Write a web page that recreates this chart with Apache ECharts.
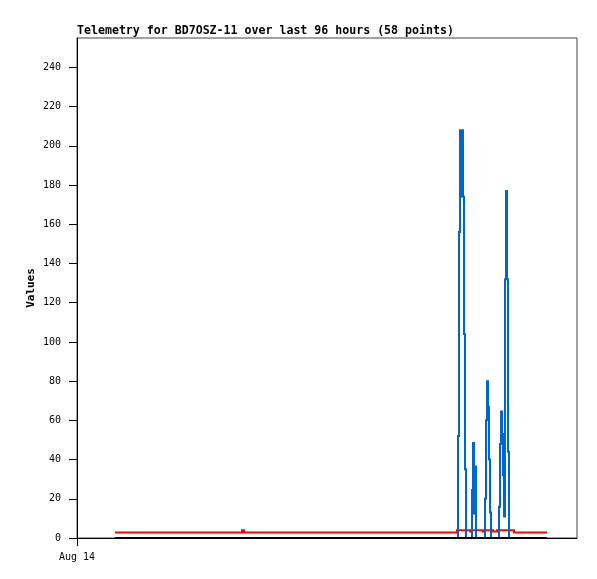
<!DOCTYPE html>
<html>
<head>
<meta charset="utf-8">
<script src="https://cdn.jsdelivr.net/npm/echarts@6/dist/echarts.min.js"></script>
<style>html,body{margin:0;padding:0;background:#fff;}#c{width:597px;height:579px;}</style>
</head>
<body>
<div id="c"></div>
<script>
// x positions are hours since Aug 14 00:00
const titleText = 'Telemetry for BD7OSZ-11 over last 96 hours (58 points)';
const yName = 'Values';
const xTickValues = [0];
const xTickLabels = ['Aug 14'];
const yTickValues = [0, 20, 40, 60, 80, 100, 120, 140, 160, 180, 200, 220, 240];

const blackHours = [7.6, 94];
const blackValues = [0, 0];

const redHours = [7.6, 33, 33.4, 76, 78.6, 79.0, 81.2, 81.6, 83.2, 84, 87.4, 94];
const redValues = [2.8, 4.0, 2.8, 3.9, 3.3, 3.9, 3.3, 3.9, 3.3, 3.9, 2.8, 2.8];

const blueHours = [7.6,
  76.2, 76.4, 76.6, 76.8, 77.0, 77.2, 77.4, 77.6, 77.8,
  79.0, 79.2, 79.4, 79.6, 79.8,
  81.6, 81.8, 82.0, 82.2, 82.4, 82.6, 82.8,
  84.4, 84.6, 84.8, 85.0, 85.2, 85.4, 85.6, 85.8, 86.0, 86.2, 86.4,
  94];
const blueValues = [0,
  52, 156, 208, 174, 208, 174, 104, 35, 0,
  24.5, 48.5, 12.5, 36.5, 0,
  20, 60, 80, 67, 40, 13, 0,
  16, 48, 64.5, 53, 32, 11, 132, 177, 132, 44, 0,
  0];

const mono = 'DejaVu Sans Mono';

// step-line drawn through the axes' own coordinate mapping
function stepSeries(hours, values, color, z) {
  return {
    type: 'custom', z: z, clip: true,
    data: hours.map((h, i) => [h, values[i]]),
    encode: {x: 0, y: 1},
    renderItem: function (params, api) {
      if (params.dataIndex !== 0) return null;
      const pts = [];
      for (let i = 0; i < hours.length; i++) {
        if (i > 0) pts.push(api.coord([hours[i], values[i - 1]]));
        pts.push(api.coord([hours[i], values[i]]));
      }
      return {
        type: 'polyline',
        shape: {points: pts},
        style: {stroke: color, lineWidth: 2, fill: null, lineJoin: 'miter', lineCap: 'butt'}
      };
    }
  };
}

const chart = echarts.init(document.getElementById('c'), null, {renderer: 'canvas'});
chart.setOption({
  animation: false,
  backgroundColor: '#fff',
  title: {
    text: titleText, left: 77, top: 25, padding: 0,
    textStyle: {fontFamily: mono, fontWeight: 'bold', fontSize: 11.6, color: '#000'}
  },
  grid: {left: 77, top: 38, right: 20, bottom: 41, show: true, borderColor: '#444', borderWidth: 1, backgroundColor: '#fff'},
  xAxis: {
    type: 'value', min: 0, max: 100,
    axisLine: {show: true, lineStyle: {color: '#000', width: 1}},
    axisTick: {show: true, length: 8, customValues: xTickValues, lineStyle: {color: '#000'}},
    axisLabel: {customValues: xTickValues, margin: 14, fontFamily: mono, fontSize: 10, color: '#000',
      formatter: v => xTickLabels[xTickValues.indexOf(v)] || ''},
    splitLine: {show: false}
  },
  yAxis: {
    type: 'value', min: 0, max: 255, interval: 20,
    name: yName, nameLocation: 'middle', nameGap: 40, nameMoveOverlap: false,
    nameTextStyle: {fontFamily: mono, fontWeight: 'bold', fontSize: 11, color: '#000'},
    axisLine: {show: true, lineStyle: {color: '#000', width: 1}},
    axisTick: {show: true, length: 8, customValues: yTickValues, lineStyle: {color: '#000'}},
    axisLabel: {customValues: yTickValues, margin: 16, fontFamily: mono, fontSize: 10, color: '#000'},
    splitLine: {show: false}
  },
  series: [
    stepSeries(redHours, redValues, '#ff0000', 2),
    stepSeries(blueHours, blueValues, '#0066cc', 3),
    stepSeries(blackHours, blackValues, '#000000', 4)
  ]
});
</script>
</body>
</html>
